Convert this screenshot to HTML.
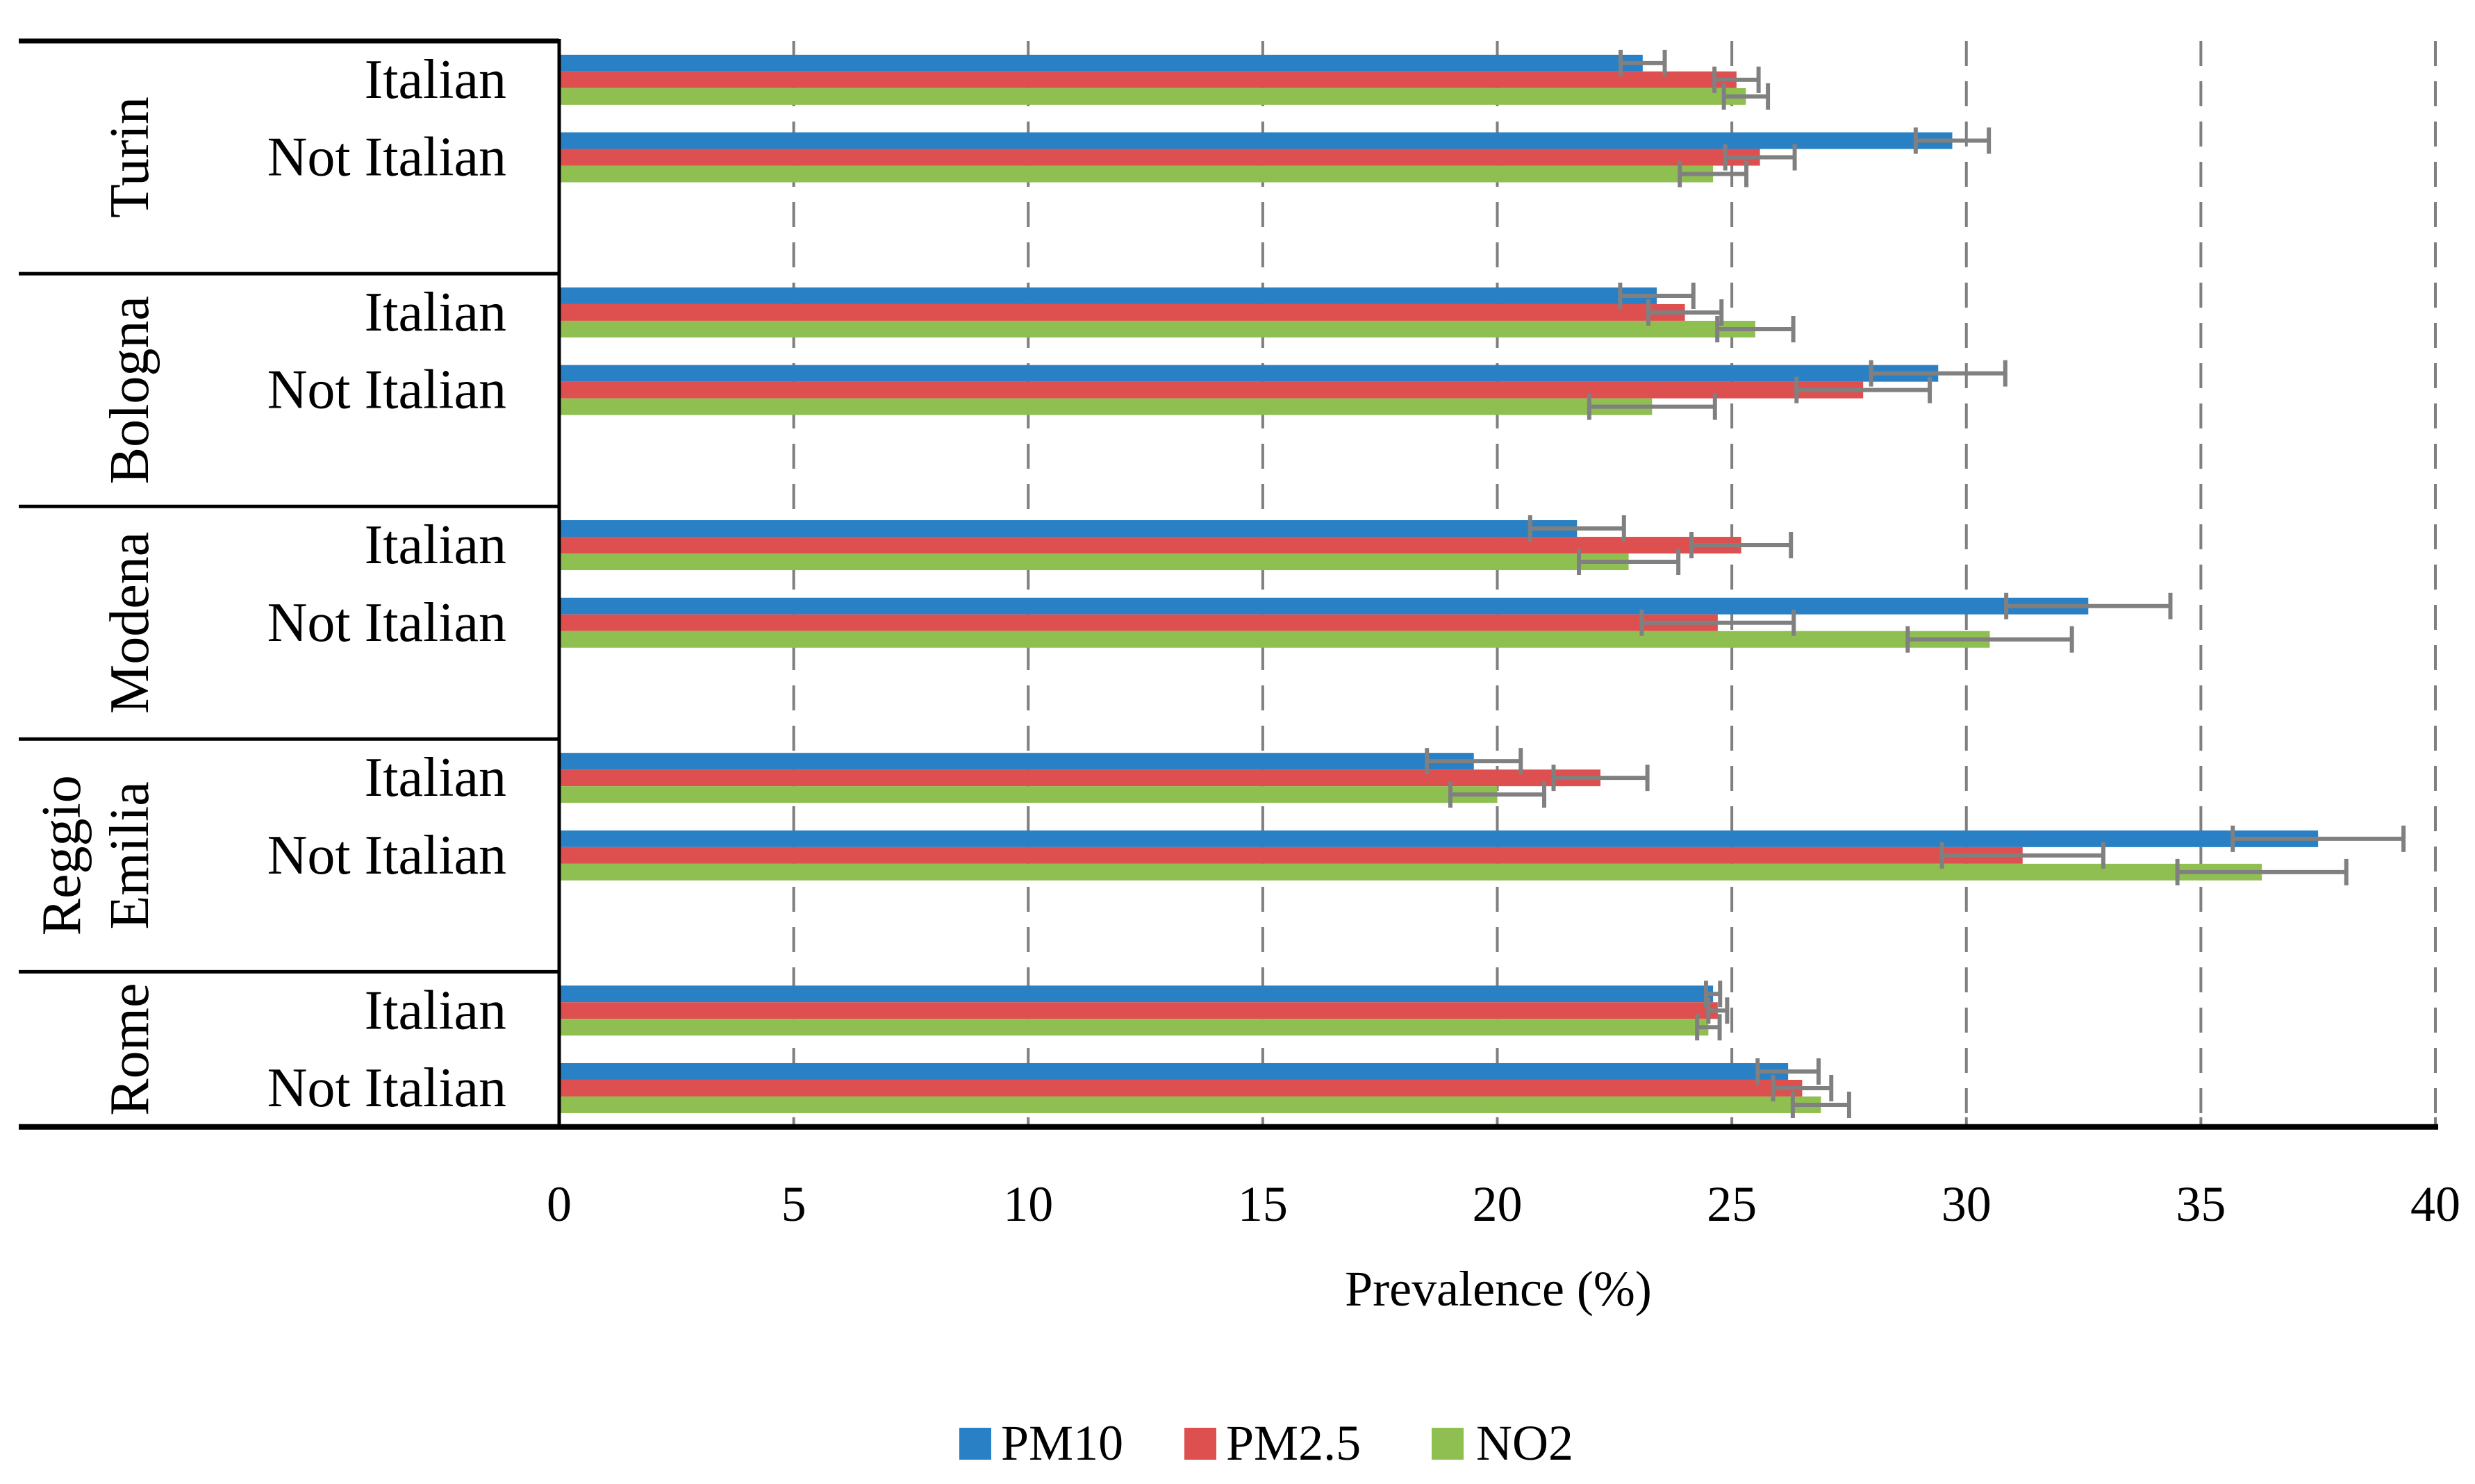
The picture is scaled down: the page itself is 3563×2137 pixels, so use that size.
<!DOCTYPE html>
<html><head><meta charset="utf-8"><style>
html,body{margin:0;padding:0;background:#fff;}
svg{display:block;font-family:"Liberation Serif",serif;}
</style></head><body>
<svg id="chart" width="3563" height="2137" viewBox="0 0 3563 2137" xmlns="http://www.w3.org/2000/svg">
<g id="grid"></g>
<g id="bars"></g>
<g id="errs"></g>
<g id="axes"></g>
<g id="labels"></g>
<text x="2157" y="1880" font-size="72" text-anchor="middle">Prevalence (%)</text>
<g>
 <g><rect x="1381" y="2056" width="46" height="46" fill="#2980c4"/><text x="1441" y="2102" font-size="72">PM10</text></g>
 <g><rect x="1705" y="2056" width="46" height="46" fill="#de5050"/><text x="1765" y="2102" font-size="72">PM2.5</text></g>
 <g><rect x="2061" y="2056" width="46" height="46" fill="#8fbf50"/><text x="2125" y="2102" font-size="72">NO2</text></g>
</g>
</svg>
<script>
const cities = ["Turin","Bologna","Modena","Reggio Emilia","Rome"];
const groups = ["Italian","Not Italian"];
const pm10 = [23.1,29.7,23.4,29.4,21.7,32.6,19.5,37.5,24.6,26.2];
const pm25 = [25.1,25.6,24.0,27.8,25.2,24.7,22.2,31.2,24.7,26.5];
const no2  = [25.3,24.6,25.5,23.3,22.8,30.5,20.0,36.3,24.5,26.9];
const pm10Err = [0.47,0.78,0.78,1.43,1.0,1.75,1.0,1.82,0.15,0.65];
const pm25Err = [0.47,0.74,0.78,1.42,1.06,1.62,1.0,1.72,0.2,0.62];
const no2Err  = [0.47,0.71,0.81,1.34,1.06,1.75,1.0,1.8,0.24,0.6];
const xTicks = [0,5,10,15,20,25,30,35,40];

const NS="http://www.w3.org/2000/svg";
const X0=805, X1=3506, XMAX=40, TOP=59, ROW=111.7, BH=24;
const xs=v=>X0+(X1-X0)*v/XMAX;
const rowCenter=i=>TOP+ROW*(Math.floor(i/2)*3+(i%2)+0.5);
function mk(tag,attrs,parent){const e=document.createElementNS(NS,tag);for(const k in attrs)e.setAttribute(k,attrs[k]);document.getElementById(parent).appendChild(e);return e;}
const BOTTOM=TOP+ROW*14;
xTicks.forEach(t=>{ if(t===0)return;
 const l=mk('line',{x1:xs(t),x2:xs(t),y1:TOP,y2:BOTTOM,stroke:'#7f7f7f','stroke-width':4,'stroke-dasharray':'36 22'},'grid');
 
 
 const tk=mk('line',{x1:xs(t),x2:xs(t),y1:BOTTOM-14,y2:BOTTOM,stroke:'#7f7f7f','stroke-width':4},'axes');
 
 
});
xTicks.forEach(t=>{
 const tx=mk('text',{x:xs(t),y:1758,'font-size':72,'text-anchor':'middle'},'axes');tx.textContent=t;
 
 
});
const series=[[pm10,pm10Err,'#2980c4','pm10'],[pm25,pm25Err,'#de5050','pm25'],[no2,no2Err,'#8fbf50','no2']];
for(let i=0;i<10;i++){
 const c=rowCenter(i);
 series.forEach((s,k)=>{
  const y=c-1.5*BH+k*BH;
  const r=mk('rect',{x:X0,y:y,width:xs(s[0][i])-X0,height:BH,fill:s[2]},'bars');
  
  
  const lo=xs(s[0][i]-s[1][i]),hi=xs(s[0][i]+s[1][i]),yc=y+BH/2;
  const g=mk('g',{stroke:'#808080','stroke-width':6},'errs');
  
  
  const a=document.createElementNS(NS,'line');a.setAttribute('x1',lo);a.setAttribute('x2',hi);a.setAttribute('y1',yc);a.setAttribute('y2',yc);g.appendChild(a);
  [lo,hi].forEach(x=>{const b=document.createElementNS(NS,'line');b.setAttribute('x1',x);b.setAttribute('x2',x);b.setAttribute('y1',yc-19);b.setAttribute('y2',yc+19);g.appendChild(b);});
 });
 const lb=mk('text',{x:729,y:c+26,'font-size':80,'text-anchor':'end'},'labels');lb.textContent=groups[i%2];
 
 
}
const va=mk('line',{x1:X0,x2:X0,y1:TOP-3,y2:BOTTOM,stroke:'#000','stroke-width':5},'axes');


const ha=mk('line',{x1:27,x2:X1+4,y1:BOTTOM,y2:BOTTOM,stroke:'#000','stroke-width':8},'axes');


for(let g=0;g<5;g++){
 const y=TOP+g*3*ROW;
 const s=mk('line',{x1:27,x2:X0,y1:y,y2:y,stroke:'#000','stroke-width':g===0?7:5},'axes');
 
 
 const yc=(y+Math.min(y+3*ROW,BOTTOM))/2;
 const name=cities[g];
 const parts=name.split(' ');
 parts.forEach((p,j)=>{
  const cx=parts.length===1?186:(j===0?88:186);
  const t=mk('text',{x:0,y:0,'font-size':80,'text-anchor':'middle',transform:`translate(${cx+27},${yc}) rotate(-90)`},'labels');
  t.textContent=p;
  
  
 });
}
</script>
</body></html>
